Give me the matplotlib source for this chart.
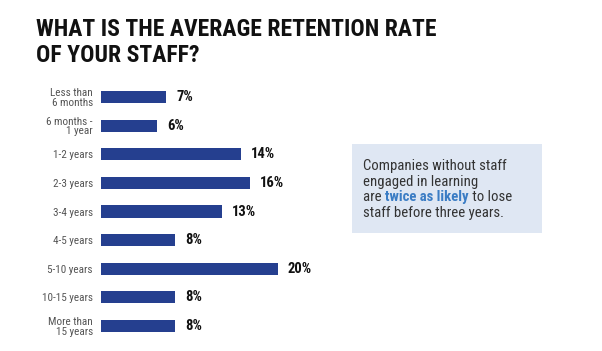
import matplotlib
matplotlib.use("Agg")
import matplotlib.pyplot as plt

categories = ["Less than\n6 months", "6 months -\n1 year", "1-2 years", "2-3 years",
              "3-4 years", "4-5 years", "5-10 years", "10-15 years", "More than\n15 years"]
values = [7, 6, 15, 16, 13, 8, 19, 8, 8]
value_labels = ["7%", "6%", "14%", "16%", "13%", "8%", "20%", "8%", "8%"]

narrow = "Roboto Condensed"

W, H = 602, 351
fig = plt.figure(figsize=(W / 100, H / 100), dpi=100)
fig.patch.set_facecolor("white")

x0 = 101
xmax = 25
ax_w = 9.3 * xmax
y_top, y_bot = 82.7, 340.3
ax = fig.add_axes([x0 / W, 1 - y_bot / H, ax_w / W, (y_bot - y_top) / H])
ax.set_xlim(0, xmax)
ax.set_ylim(len(categories) - 0.5, -0.5)
ypos = list(range(len(categories)))
ax.barh(ypos, values, height=0.42, color="#253f8f", edgecolor="none")
for y, v, lab in zip(ypos, values, value_labels):
    ax.text(v + 1.07, y, lab, va="center", ha="left", fontsize=10.5,
            fontweight="bold", family=narrow, color="#111111")
ax.set_yticks(ypos)
ax.set_yticklabels(categories, family=narrow, fontsize=8, color="#555555",
                   linespacing=0.95)
ax.tick_params(axis="y", length=0, pad=5.8)
ax.set_xticks([])
for s in ax.spines.values():
    s.set_visible(False)
ax.patch.set_alpha(0)

fig.text(36 / W, 1 - 18 / H, "WHAT IS THE AVERAGE RETENTION RATE\nOF YOUR STAFF?",
         ha="left", va="top", fontsize=17, fontweight="bold", family=narrow,
         color="#111111", linespacing=1.15)

bx0, by0, bx1, by1 = 352, 144, 542, 233
fig.patches.append(plt.Rectangle((bx0 / W, 1 - by1 / H), (bx1 - bx0) / W, (by1 - by0) / H,
                                 transform=fig.transFigure, facecolor="#dfe7f3",
                                 edgecolor="none", zorder=0))
tx = 363
fs = 10.6
lines_y = [166, 182, 197, 213]
kw = dict(family=narrow, fontsize=fs, color="#333333", va="center", ha="left")
fig.text(tx / W, 1 - lines_y[0] / H, "Companies without staff", **kw)
fig.text(tx / W, 1 - lines_y[1] / H, "engaged in learning", **kw)
t1 = fig.text(tx / W, 1 - lines_y[2] / H, "are ", **kw)
fig.canvas.draw()
r = fig.canvas.get_renderer()
bb = t1.get_window_extent(r)
kwb = dict(kw)
kwb.update(color="#3a7cc4", fontweight="bold")
t2 = fig.text(bb.x1 / W, 1 - lines_y[2] / H, "twice as likely", **kwb)
bb2 = t2.get_window_extent(r)
fig.text(bb2.x1 / W, 1 - lines_y[2] / H, " to lose", **kw)
fig.text(tx / W, 1 - lines_y[3] / H, "staff before three years.", **kw)

fig.savefig("out.png", dpi=100, facecolor="white")
